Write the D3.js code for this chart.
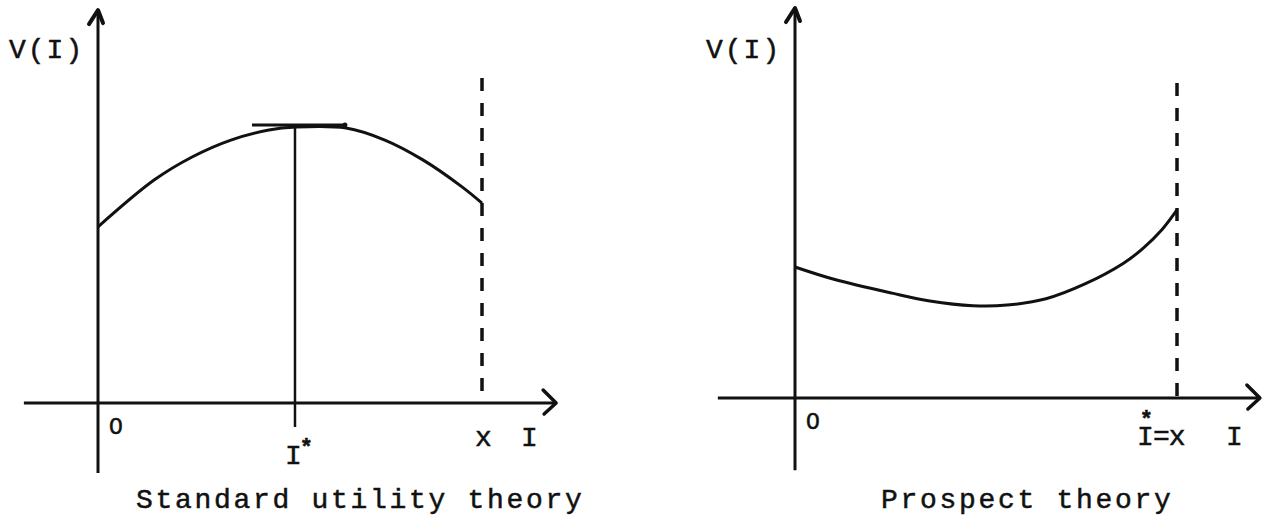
<!DOCTYPE html>
<html>
<head>
<meta charset="utf-8">
<script src="https://cdn.jsdelivr.net/npm/d3@7"></script>
<style>
  body { margin: 0; background: #fff; }
  text { font-family: "Liberation Mono", monospace; fill: #111; stroke: #111; stroke-width: 0.5px; }
</style>
</head>
<body>
<div id="chart"></div>
<script>
// Standard utility theory curve (I from 0 to x = 10)
const stdI = [0, 1.46, 2.45, 3.46, 4.45, 5.16, 6.46, 7.47, 8.46, 9.48, 10];
const stdV = [5.42, 6.86, 7.57, 8.09, 8.40, 8.49, 8.46, 8.09, 7.48, 6.65, 6.15];
const stdOptimum = 5.13;         // I*
const stdTangent = [4.01, 6.43]; // horizontal tangent span at the top

// Prospect theory curve
const prosI = [0, 1.02, 2.54, 3.53, 4.66, 5.55, 6.57, 7.59, 8.59, 9.11, 9.61, 10];
const prosV = [4.16, 3.77, 3.33, 3.08, 2.93, 2.95, 3.15, 3.62, 4.27, 4.75, 5.35, 5.97];

const xLimit = 10;  // I = x (dashed bound)
const titles = ["Standard utility theory", "Prospect theory"];

const width = 1263;
const height = 518;
const fs = 28;

const svg = d3.select("#chart")
  .append("svg")
  .attr("width", width)
  .attr("height", height);

function drawPanel(opt) {
  const g = svg.append("g");

  const x = d3.scaleLinear().domain([0, xLimit]).range(opt.xRange);
  const y = d3.scaleLinear().domain([0, 10]).range(opt.yRange);

  // axes
  g.append("line")
    .attr("x1", x(opt.axX[0])).attr("x2", x(opt.axX[1]))
    .attr("y1", y(0)).attr("y2", y(0))
    .attr("stroke", "#111").attr("stroke-width", 3);
  g.append("line")
    .attr("x1", x(0)).attr("x2", x(0))
    .attr("y1", y(opt.axY[0])).attr("y2", y(opt.axY[1]))
    .attr("stroke", "#111").attr("stroke-width", 3);

  // arrow heads
  const tx = x(opt.axX[1]), ty = y(0);
  g.append("path")
    .attr("d", `M${tx - 13},${ty - 13} L${tx},${ty} L${tx - 12},${ty + 11}`)
    .attr("fill", "none").attr("stroke", "#111").attr("stroke-width", 3.5)
    .attr("stroke-linejoin", "round").attr("stroke-linecap", "round");
  const vx = x(0), vy = y(opt.axY[1]);
  g.append("path")
    .attr("d", `M${vx - 9},${vy + 14} L${vx},${vy} L${vx + 5},${vy + 13}`)
    .attr("fill", "none").attr("stroke", "#111").attr("stroke-width", 4)
    .attr("stroke-linejoin", "round").attr("stroke-linecap", "round");

  // dashed bound at I = x
  g.append("line")
    .attr("x1", x(xLimit)).attr("x2", x(xLimit))
    .attr("y1", y(10)).attr("y2", y(0))
    .attr("stroke", "#111").attr("stroke-width", 3.5)
    .attr("stroke-dasharray", "13,12");

  // value curve
  const line = d3.line()
    .x(d => x(d))
    .y((d, i) => y(opt.v[i]))
    .curve(d3.curveCatmullRom.alpha(0.5));
  g.append("path")
    .attr("d", line(opt.i))
    .attr("fill", "none").attr("stroke", "#111").attr("stroke-width", 3);

  if (opt.optimum !== undefined) {
    const peak = d3.max(opt.v);
    g.append("line")
      .attr("x1", x(opt.optimum)).attr("x2", x(opt.optimum))
      .attr("y1", y(peak)).attr("y2", y(-0.74))
      .attr("stroke", "#111").attr("stroke-width", 2.5);
    g.append("line")
      .attr("x1", x(opt.tangent[0])).attr("x2", x(opt.tangent[1]))
      .attr("y1", y(peak) - 2).attr("y2", y(peak) - 2)
      .attr("stroke", "#111").attr("stroke-width", 3);
    g.append("circle")
      .attr("cx", x(opt.tangent[1])).attr("cy", y(peak) - 2)
      .attr("r", 2.5).attr("fill", "#111");

    const lab = g.append("text")
      .attr("x", x(opt.optimum) - 10).attr("y", y(0) + 61)
      .style("font-size", fs + "px");
    lab.append("tspan").text("I");
    lab.append("tspan").attr("dx", -2).attr("dy", -10).style("font-size", "22px").style("font-weight", "bold").text("*");

    g.append("text")
      .attr("x", x(xLimit) - 7).attr("y", y(0) + 43)
      .style("font-size", fs + "px")
      .text("x");
    g.append("text")
      .attr("x", x(xLimit) + 39).attr("y", y(0) + 43)
      .style("font-size", fs + "px")
      .text("I");
  } else {
    const lab = g.append("text")
      .attr("x", x(xLimit) - 40).attr("y", y(0) + 47)
      .style("font-size", fs + "px");
    lab.append("tspan").text("I");
    lab.append("tspan").attr("dx", -14).attr("dy", -19)
      .style("font-size", "22px").style("font-weight", "bold").text("*");
    lab.append("tspan").attr("dx", 0).attr("dy", 19).style("letter-spacing", "-1px").text("=x");
    g.append("text")
      .attr("x", x(xLimit) + 49).attr("y", y(0) + 47)
      .style("font-size", fs + "px")
      .text("I");
  }

  // origin and axis title
  g.append("text")
    .attr("x", x(0) + 11).attr("y", y(0) + 31)
    .style("font-size", "23px")
    .text("O");
  g.append("text")
    .attr("x", x(0) - 89).attr("y", 58)
    .style("font-size", fs + "px")
    .style("letter-spacing", "2px")
    .text("V(I)");

  // panel title
  g.append("text")
    .attr("x", opt.titleX).attr("y", 508)
    .style("font-size", fs + "px")
    .style("letter-spacing", "2.7px")
    .text(opt.title);
}

drawPanel({
  i: stdI, v: stdV, optimum: stdOptimum, tangent: stdTangent,
  xRange: [98, 482], yRange: [403, 78],
  axX: [-1.93, 11.93], axY: [-2.15, 12.09],
  title: titles[0], titleX: 136
});

drawPanel({
  i: prosI, v: prosV,
  xRange: [795, 1177], yRange: [398, 83],
  axX: [-2.02, 12.17], axY: [-2.29, 12.38],
  title: titles[1], titleX: 881
});
</script>
</body>
</html>
